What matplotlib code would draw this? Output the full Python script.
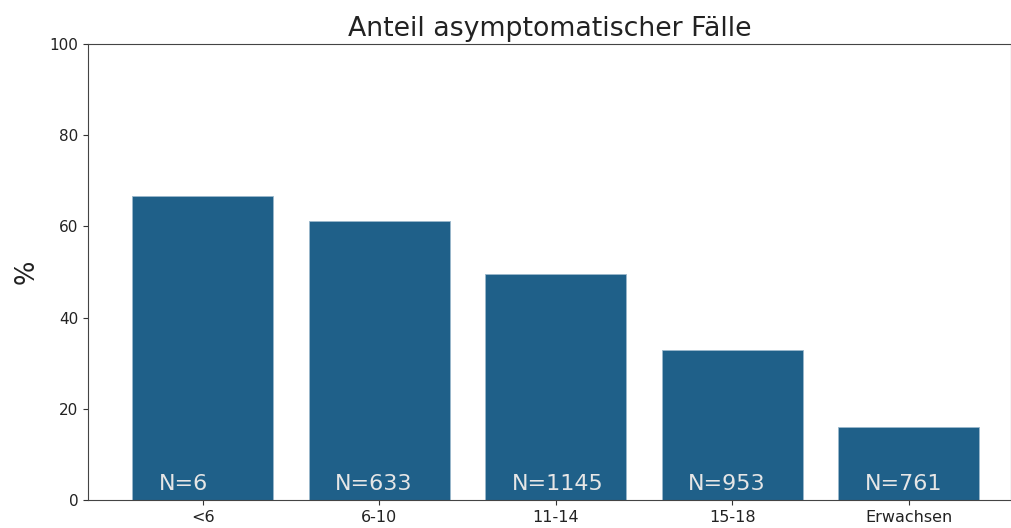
import matplotlib
matplotlib.use("Agg")
import matplotlib.pyplot as plt

categories = ["<6", "6-10", "11-14", "15-18", "Erwachsen"]
percent = [66.7, 61.2, 49.5, 32.9, 16.0]
n_cases = [6, 633, 1145, 953, 761]

fig = plt.figure(figsize=(10.12, 5.28), dpi=100)
ax = fig.add_axes([88 / 1012, 28 / 528, 923 / 1012, 456 / 528])

x = list(range(len(categories)))
ax.bar(x, percent, width=0.8, color="#1f6089", edgecolor="#9ab8cc", linewidth=0.6)

# N pro Gruppe unten in den Balken
for i, n in zip(x, n_cases):
    ax.text(i - 0.25, 1.3, f"N={n}", color="#e6e6e6", fontsize=16, ha="left", va="bottom")

for sp in ax.spines.values():
    sp.set_color("#444444")
ax.set_xticks(x)
ax.set_xticklabels(categories, fontsize=11.5)
ax.tick_params(axis="y", labelsize=11)
ax.tick_params(colors="#333333", labelcolor="#222222")
ax.set_xlim(-0.65, 4.58)
ax.set_ylim(0, 100)
ax.set_ylabel("%", fontsize=18.5, labelpad=7, color="#222222")
ax.set_title("Anteil asymptomatischer Fälle", fontsize=19.3, pad=6, color="#222222")

plt.savefig("out.png", dpi=100)
